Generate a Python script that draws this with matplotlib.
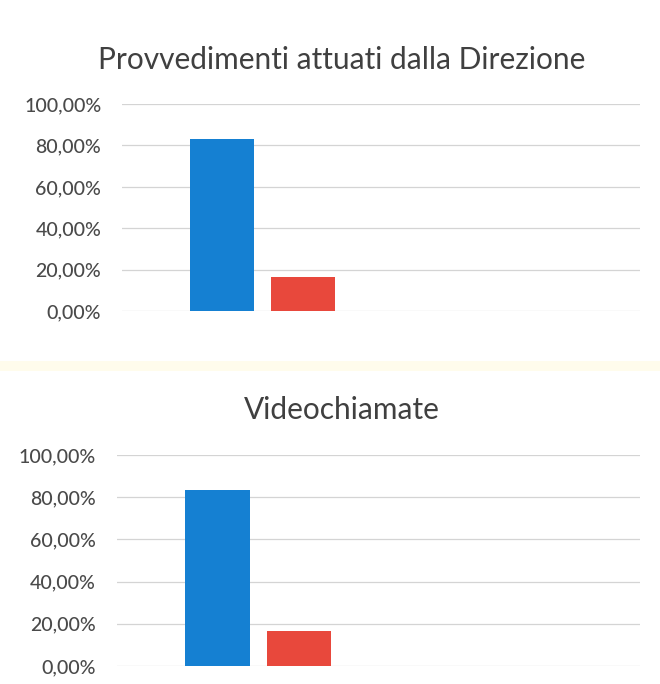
import matplotlib.pyplot as plt
from matplotlib.patches import Rectangle
from matplotlib.ticker import FuncFormatter

plt.rcParams.update({
    'font.family': ['Lato', 'DejaVu Sans'],
    'font.size': 12,
})

# Data (percent)
series = ['Sì', 'No']
provvedimenti = [83.3, 16.7]
videochiamate = [83.3, 16.7]
titles = ['Provvedimenti attuati dalla Direzione', 'Videochiamate']
y_ticks = [0, 20, 40, 60, 80, 100]

bar_colors = ['#1580d2', '#e8483c']
tick_color = '#4a4a4a'
grid_color = '#d4d4d4'

fig = plt.figure(figsize=(6.6, 6.84), dpi=100)
fig.patch.set_facecolor('white')

# faint yellowish band between the two scanned charts
fig.add_artist(Rectangle((0, 0.457), 1, 0.015, transform=fig.transFigure,
                         facecolor='#fffcec', edgecolor='none', zorder=0))

ax_top = fig.add_axes([0.185, 0.545, 0.785, 0.303])
ax_bot = fig.add_axes([0.177, 0.0263, 0.793, 0.3085])

pct_fmt = FuncFormatter(lambda v, pos: f'{v:.2f}%'.replace('.', ','))

for ax, vals, title, title_y in [(ax_top, provvedimenti, titles[0], 0.912),
                                 (ax_bot, videochiamate, titles[1], 0.400)]:
    xs = list(range(len(vals)))
    ax.bar(xs, vals, width=0.79, color=bar_colors, zorder=3)
    ax.set_xlim(-1.23, 5.17)
    ax.set_ylim(0, 100)
    ax.set_yticks(y_ticks)
    ax.yaxis.set_major_formatter(pct_fmt)
    ax.set_xticks([])
    ax.grid(axis='y', color=grid_color, linewidth=0.9, zorder=0)
    for s in ax.spines.values():
        s.set_visible(False)
    ax.tick_params(axis='y', length=0, pad=15, labelsize=14, labelcolor=tick_color)
    for lbl in ax.get_yticklabels():
        lbl.set_fontweight('medium')
    fig.text(0.518, title_y, title, ha='center', va='center',
             fontsize=21.5, color='#404040')

plt.savefig('out.png', dpi=100)
